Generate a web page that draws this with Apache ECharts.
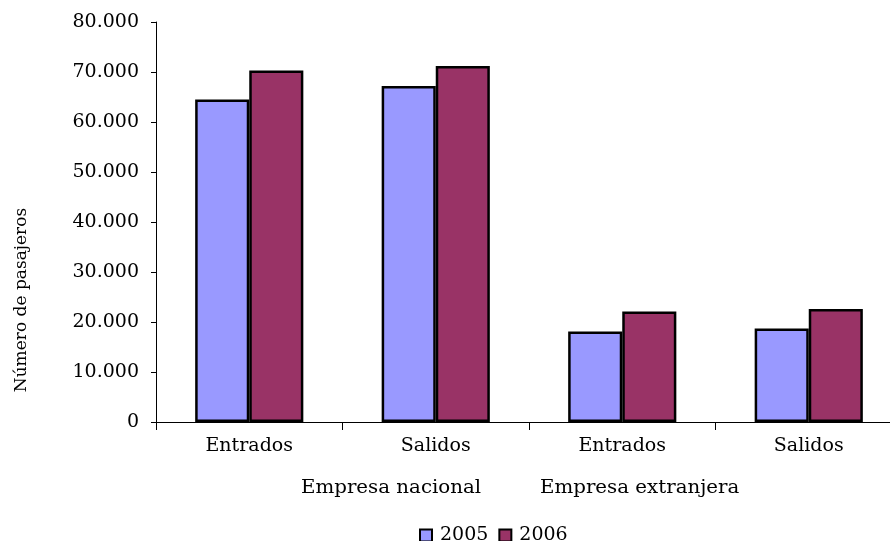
<!DOCTYPE html>
<html>
<head>
<meta charset="utf-8">
<script src="https://cdn.jsdelivr.net/npm/echarts@6/dist/echarts.min.js"></script>
<style>html,body{margin:0;padding:0;background:#fff;overflow:hidden;width:890px;height:541px}#c{width:902px;height:541px}</style>
</head>
<body>
<div id="c"></div>
<script>
var categories = ["Entrados", "Salidos", "Entrados", "Salidos"];
var groups = ["Empresa nacional", "Empresa extranjera"];
var seriesNames = ["2005", "2006"];
var values2005 = [64500, 67200, 18100, 18700];
var values2006 = [70300, 71200, 22100, 22600];
var yAxisTitle = "Número de pasajeros";

var font = "'DejaVu Serif', serif";
var chart = echarts.init(document.getElementById('c'));
function fmt(v){ return String(v).replace(/\B(?=(\d{3})+(?!\d))/g, '.'); }
chart.setOption({
  animation: false,
  backgroundColor: '#fff',
  grid: { left: 156, right: 0, top: 22, height: 400 },
  legend: {
    top: 521, left: 414,
    itemWidth: 12, itemHeight: 12, itemGap: 10,
    textStyle: { fontFamily: font, fontSize: 19, color: '#000', padding: [0,0,0,3] },
    data: seriesNames.map(function(n){ return { name: n, icon: 'rect' }; })
  },
  xAxis: {
    type: 'category', data: categories,
    axisLine: { lineStyle: { color: '#000', width: 1 } },
    axisTick: { show: true, length: 8, lineStyle: { color: '#000' } },
    axisLabel: { fontFamily: font, fontSize: 19, color: '#000', margin: 15 }
  },
  yAxis: {
    type: 'value', min: 0, max: 80000, interval: 10000,
    splitLine: { show: false },
    axisLine: { show: true, lineStyle: { color: '#000', width: 1 } },
    axisTick: { show: true, length: 5, lineStyle: { color: '#000' } },
    axisLabel: { fontFamily: font, fontSize: 19, color: '#000', margin: 17, formatter: fmt }
  },
  graphic: [
    { type: 'text', x: 301, y: 488, scaleX: 1.1, style: { text: groups[0], font: "18px 'DejaVu Serif'", fill: '#000', verticalAlign: 'middle' } },
    { type: 'text', x: 540, y: 488, scaleX: 1.1, style: { text: groups[1], font: "18px 'DejaVu Serif'", fill: '#000', verticalAlign: 'middle' } },
    { type: 'text', x: 22, y: 300, rotation: Math.PI/2, style: { text: yAxisTitle, font: "17px 'DejaVu Serif'", fill: '#000', align: 'center', verticalAlign: 'middle' } }
  ],
  series: [
    { name: seriesNames[0], type: 'bar', data: values2005, barGap: '0%', barCategoryGap: '42%',
      itemStyle: { color: '#9999FF', borderColor: '#000', borderWidth: 2.5 } },
    { name: seriesNames[1], type: 'bar', data: values2006,
      itemStyle: { color: '#993366', borderColor: '#000', borderWidth: 2.5 } }
  ]
});
</script>
</body>
</html>
